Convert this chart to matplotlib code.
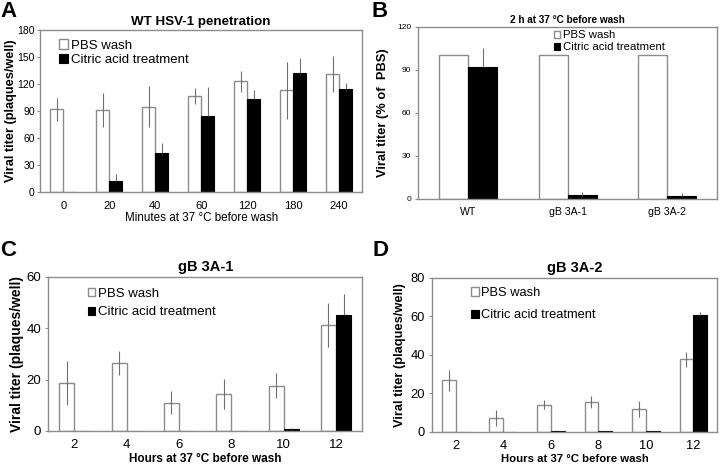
import numpy as np
import matplotlib
matplotlib.use("Agg")
import matplotlib.pyplot as plt

plt.rcParams['font.family'] = ['Liberation Sans', 'DejaVu Sans']

# panel A - WT HSV-1 penetration
a_labels = ['0', '20', '40', '60', '120', '180', '240']
a_pbs = [92, 91, 95, 107, 123, 113, 131]
a_pbs_err = [12.5, 19, 23, 9, 12, 32, 20]
a_cit = [0, 13, 43, 85, 103, 132, 115]
a_cit_err = [0, 7, 12, 32, 10, 17, 6]

# panel B - 2 h at 37 C
b_labels = ['WT', 'gB 3A-1', 'gB 3A-2']
b_pbs = [100, 100, 100]
b_cit = [92, 3, 2.3]
b_cit_err = [13.5, 1.5, 1.5]

# panel C - gB 3A-1
c_labels = ['2', '4', '6', '8', '10', '12']
c_pbs = [18.8, 26.6, 11, 14.4, 17.7, 41.2]
c_pbs_err = [8.6, 4.7, 4.4, 6, 4.7, 8.6]
c_cit = [0, 0, 0, 0, 0.8, 45.3]
c_cit_err = [0, 0, 0, 0, 0.2, 8.2]

# panel D - gB 3A-2
d_labels = ['2', '4', '6', '8', '10', '12']
d_pbs = [26.8, 7.3, 14.2, 15.6, 11.9, 37.6]
d_pbs_err = [5.4, 4, 2.3, 3.3, 4.4, 4.1]
d_cit = [0, 0, 0.4, 0.4, 0.4, 60.6]
d_cit_err = [0, 0, 0.2, 0.2, 0.2, 1.6]

frame = '#8c8c8c'


def bar_panel(ax, labels, pbs, pbs_err, cit, cit_err, w, ymax, ystep, tick_fs):
    x = np.arange(len(labels))
    ax.bar(x - w, pbs, w, align='edge', color='white', edgecolor=frame, linewidth=1.0,
           label='PBS wash', zorder=2)
    ax.bar(x, cit, w, align='edge', color='black', edgecolor='black', linewidth=0.8,
           label='Citric acid treatment', zorder=2)
    if pbs_err is not None:
        ax.errorbar(x - w / 2, pbs, yerr=pbs_err, fmt='none', ecolor='#707070',
                    elinewidth=0.8, capsize=0, zorder=3)
    lo = np.zeros(len(cit))
    ax.errorbar(x + w / 2, cit, yerr=[lo, cit_err], fmt='none', ecolor='#707070',
                elinewidth=0.8, capsize=0, zorder=3)
    ax.set_xlim(-0.5, len(labels) - 0.5)
    ax.set_ylim(0, ymax)
    ax.set_yticks(np.arange(0, ymax + 1, ystep))
    ax.set_xticks(x)
    ax.set_xticklabels(labels)
    for s in ax.spines.values():
        s.set_color(frame)
        s.set_linewidth(1.0)
    ax.tick_params(axis='x', length=0, labelsize=tick_fs, pad=6)
    ax.tick_params(axis='y', length=2, color=frame, labelsize=tick_fs, pad=3)


fig = plt.figure(figsize=(7.2, 4.7), dpi=100)

# A
axA = fig.add_axes([0.056, 0.591, 0.447, 0.345])
bar_panel(axA, a_labels, a_pbs, a_pbs_err, a_cit, a_cit_err, 0.28, 180, 30, 7.5)
axA.tick_params(axis='x', labelsize=8)
axA.tick_params(axis='y', pad=2)
axA.set_title('WT HSV-1 penetration', fontsize=9.6, fontweight='bold', pad=4)
axA.set_xlabel('Minutes at 37 °C before wash', fontsize=8.4, labelpad=1)
axA.set_ylabel('Viral titer (plaques/well)', fontsize=9.2, fontweight='bold', labelpad=0)
axA.legend(loc='upper left', bbox_to_anchor=(0.03, 1.0), frameon=False, fontsize=9.5,
           handlelength=0.7, handleheight=0.7, handletextpad=0.2, labelspacing=0.15,
           borderaxespad=0.3)

# B
axB = fig.add_axes([0.581, 0.577, 0.415, 0.366])
bar_panel(axB, b_labels, b_pbs, None, b_cit, b_cit_err, 0.29, 120, 30, 6)
axB.tick_params(axis='x', labelsize=7.6)
axB.set_title('2 h at 37 °C before wash', fontsize=7.2, fontweight='bold', pad=3)
axB.set_ylabel('Viral titer (% of  PBS)', fontsize=9.3, fontweight='bold', labelpad=6)
axB.legend(loc='upper left', bbox_to_anchor=(0.43, 1.02), frameon=False, fontsize=8.2,
           handlelength=0.6, handleheight=0.6, handletextpad=0.2, labelspacing=0.2,
           borderaxespad=0.2)

# C
axC = fig.add_axes([0.067, 0.083, 0.436, 0.328])
bar_panel(axC, c_labels, c_pbs, c_pbs_err, c_cit, c_cit_err, 0.29, 60, 20, 9.5)
axC.set_title('gB 3A-1', fontsize=10.5, fontweight='bold', pad=4)
axC.set_xlabel('Hours at 37 °C before wash', fontsize=8.5, fontweight='bold', labelpad=1)
axC.set_ylabel('Viral titer (plaques/well)', fontsize=10, fontweight='bold', labelpad=2)
axC.legend(loc='upper left', bbox_to_anchor=(0.1, 0.98), frameon=False, fontsize=9.5,
           handlelength=0.6, handleheight=0.6, handletextpad=0.2, labelspacing=0.5,
           borderaxespad=0.2)

# D
axD = fig.add_axes([0.6, 0.081, 0.396, 0.328])
bar_panel(axD, d_labels, d_pbs, d_pbs_err, d_cit, d_cit_err, 0.29, 80, 20, 9.3)
axD.set_title('gB 3A-2', fontsize=10.5, fontweight='bold', pad=4)
axD.set_xlabel('Hours at 37 °C before wash', fontsize=8.2, fontweight='bold', labelpad=1)
axD.set_ylabel('Viral titer (plaques/well)', fontsize=9.3, fontweight='bold', labelpad=3)
axD.legend(loc='upper left', bbox_to_anchor=(0.11, 0.99), frameon=False, fontsize=9.3,
           handlelength=0.6, handleheight=0.6, handletextpad=0.2, labelspacing=0.8,
           borderaxespad=0.2)

# panel letters
for lab, xx, yy in [('A', 0.0, 0.976), ('B', 0.516, 0.975), ('C', 0.0, 0.468), ('D', 0.518, 0.468)]:
    fig.text(xx, yy, lab, fontsize=16, fontweight='bold', va='center', ha='left')

fig.savefig('out.png', dpi=100)
